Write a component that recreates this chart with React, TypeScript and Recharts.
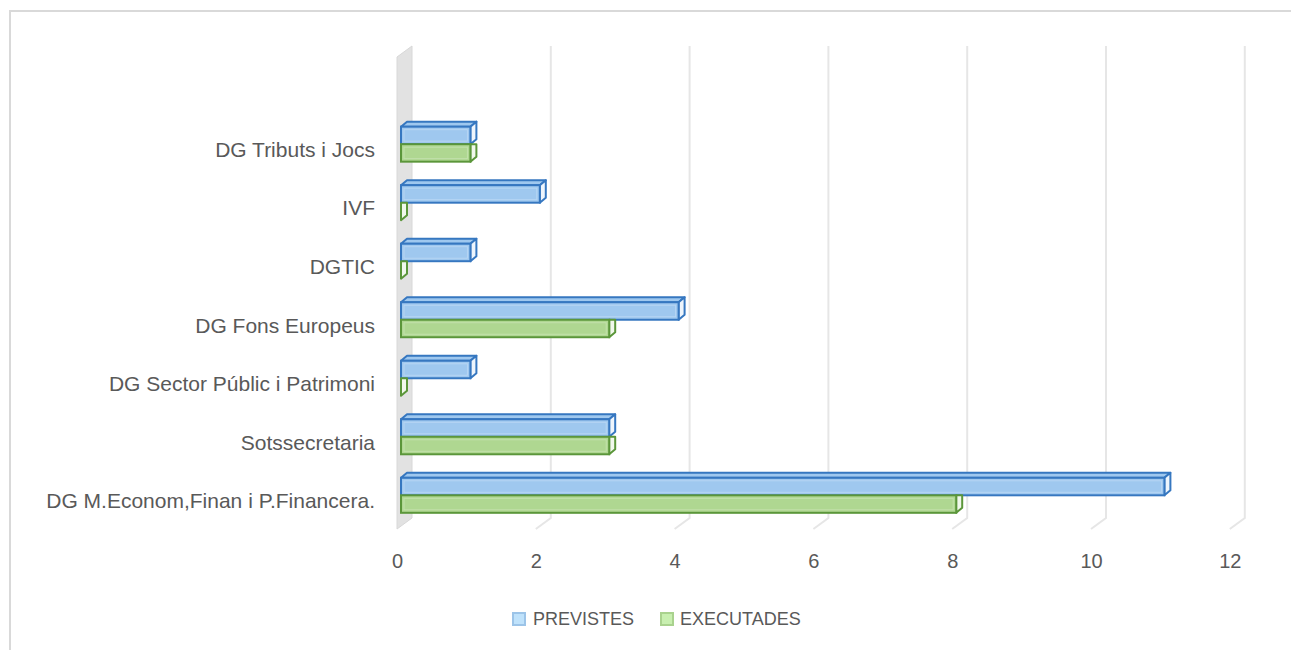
import React from "react";
import { BarChart, Bar, XAxis, YAxis, Legend, CartesianGrid } from "recharts";

const categories = [
  "DG Tributs i Jocs",
  "IVF",
  "DGTIC",
  "DG Fons Europeus",
  "DG Sector Públic i Patrimoni",
  "Sotssecretaria",
  "DG M.Econom,Finan i P.Financera.",
];
const previstes = [1, 2, 1, 4, 1, 3, 11];
const executades = [1, 0, 0, 3, 0, 3, 8];
const xTicks = [0, 2, 4, 6, 8, 10, 12];

const data = categories.map((name, i) => ({
  name,
  PREVISTES: previstes[i],
  EXECUTADES: executades[i],
}));

const TEXT = "#595959";
const FONT = "'Liberation Sans', Arial, sans-serif";
const DX = 6;
const DY = -5;
const PLOT_LEFT = 401;

const BLUE = { fill: "#9fc8ef", stroke: "#3677c0", side: "#eef5fc", inner: "#c2dcf5" };
const GREEN = { fill: "#afd791", stroke: "#5b963a", side: "#f1f8ec", inner: "#cce6b8" };

const make3D = (c: typeof BLUE, drawTop: boolean) => (props: any) => {
  const { x, y, width, height } = props;
  const w = Math.max(0, width || 0);
  const h = height;
  const sw = 2;
  const topFace = `M${x},${y} L${x + DX},${y + DY} L${x + w + DX},${y + DY} L${x + w},${y} Z`;
  const sideFace = drawTop
    ? `M${x + w},${y} L${x + w + DX},${y + DY} L${x + w + DX},${y + h + DY} L${x + w},${y + h} Z`
    : `M${x + w},${y} L${x + w + DX},${y} L${x + w + DX},${y + h + DY} L${x + w},${y + h} Z`;
  return (
    <g>
      {drawTop && w > 0 && (
        <path d={topFace} fill={c.fill} stroke={c.stroke} strokeWidth={sw} strokeLinejoin="round" />
      )}
      <path d={sideFace} fill={c.side} stroke={c.stroke} strokeWidth={sw} strokeLinejoin="round" />
      {w > 0 && (
        <>
          <rect x={x} y={y} width={w} height={h} fill={c.fill} stroke={c.stroke} strokeWidth={sw} />
          <rect x={x + 3} y={y + 3} width={Math.max(0, w - 6)} height={Math.max(0, h - 6)} fill="none" stroke={c.inner} strokeWidth={1} opacity={0.7} />
        </>
      )}
    </g>
  );
};

const GridLine = (props: any) => {
  const x = props.x1;
  const isZero = Math.abs(x - PLOT_LEFT) < 2;
  return (
    <g key={props.key}>
      {isZero ? (
        <path d={`M${x - 4},57 L${x + 11},46 L${x + 11},518 L${x - 4},529 Z`} fill="#e2e2e2" stroke="#d8d8d8" strokeWidth={1} />
      ) : (
        <path d={`M${x + 11},46 L${x + 11},518 L${x - 4},529`} fill="none" stroke="#e6e6e6" strokeWidth={2} />
      )}
    </g>
  );
};

const YTick = (props: any) => {
  const { y, payload } = props;
  return (
    <text x={375} y={y + 13} textAnchor="end" fill={TEXT} fontSize={21} fontFamily={FONT}>
      {payload.value}
    </text>
  );
};

const XTick = (props: any) => {
  const { x, payload } = props;
  return (
    <text x={x - 3.5} y={567.5} textAnchor="middle" fill={TEXT} fontSize={20} fontFamily={FONT}>
      {payload.value}
    </text>
  );
};

const LegendContent = () => (
  <div style={{ position: "relative", height: 30, width: 1291, fontFamily: FONT, fontSize: 18, color: TEXT }}>
    <span style={{ position: "absolute", left: 512, top: 12, width: 10, height: 10, background: "#bfe2fb", border: "2px solid #9cc4e8" }} />
    <span style={{ position: "absolute", left: 533, top: 10, lineHeight: "18px" }}>PREVISTES</span>
    <span style={{ position: "absolute", left: 660, top: 12, width: 10, height: 10, background: "#c8efb0", border: "2px solid #a9d28e" }} />
    <span style={{ position: "absolute", left: 680, top: 10, lineHeight: "18px" }}>EXECUTADES</span>
  </div>
);

export default function App() {
  return (
    <div style={{ position: "relative", width: 1291, height: 650, background: "#fff", overflow: "hidden" }}>
      <style>{`body{margin:0;overflow:hidden;}`}</style>
      <div
        style={{
          position: "absolute",
          left: 9,
          top: 10,
          width: 1300,
          height: 660,
          borderTop: "2px solid #d9d9d9",
          borderLeft: "2px solid #d9d9d9",
          boxSizing: "border-box",
        }}
      />
      <div style={{ position: "absolute", left: 0, top: 0 }}>
        <BarChart
          width={1291}
          height={650}
          data={data}
          layout="vertical"
          margin={{ top: 114.67, right: 57.2, bottom: 65.67, left: 11 }}
          barSize={17.5}
          barGap={0}
        >
          <CartesianGrid horizontal={false} vertical={(p: any) => <GridLine {...p} />} />
          <XAxis
            type="number"
            domain={[0, 12]}
            ticks={xTicks}
            axisLine={false}
            tickLine={false}
            height={30}
            tick={<XTick />}
            interval={0}
          />
          <YAxis
            type="category"
            dataKey="name"
            width={390}
            axisLine={false}
            tickLine={false}
            tick={<YTick />}
            interval={0}
          />
          <Bar dataKey="PREVISTES" isAnimationActive={false} fill={BLUE.fill} shape={make3D(BLUE, true)} />
          <Bar dataKey="EXECUTADES" isAnimationActive={false} fill={GREEN.fill} shape={make3D(GREEN, false)} />
          <Legend
            content={<LegendContent />}
            wrapperStyle={{ position: "absolute", left: 0, top: 600, width: 1291, height: 30 }}
          />
        </BarChart>
      </div>
    </div>
  );
}
